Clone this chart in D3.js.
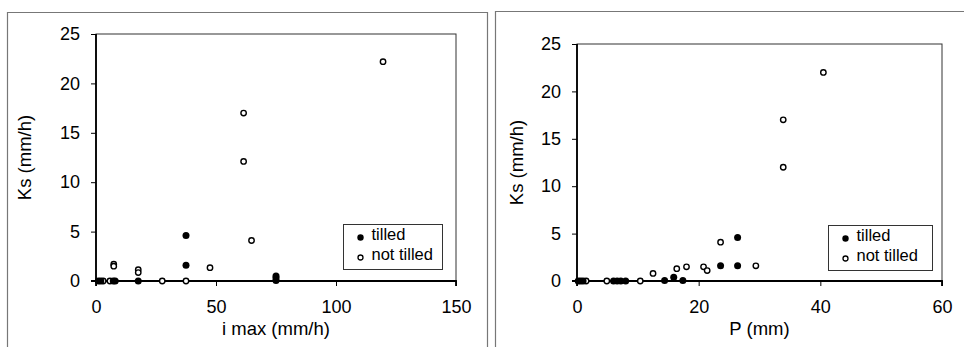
<!DOCTYPE html>
<html>
<head>
    <title>Ks scatter</title>
    <script src="https://d3js.org/d3.v7.min.js"></script>
    <style>
        body { margin: 0; background: #fff; }
        svg { display: block; }
        text { font-family: Arial, "Liberation Sans", sans-serif; fill: #000; }
    </style>
</head>
<body>
    <svg id="chart" width="964" height="347"></svg>

    <script>
        // left panel: Ks against i max
        var imaxTilled = [1, 2, 7.2, 8, 17.6, 37.5, 37.5, 75, 75, 75]
        var ksImaxTilled = [0, 0, 0, 0, 0, 4.6, 1.6, 0.5, 0.3, 0.05]
        var imaxNotTilled = [3, 5.8, 7.4, 7.4, 17.6, 17.6, 27.6, 37.5, 47.5, 61.5, 61.5, 64.8, 119.6]
        var ksImaxNotTilled = [0, 0, 1.7, 1.5, 1.15, 0.85, 0, 0, 1.35, 17.0, 12.1, 4.1, 22.2]

        // right panel: Ks against P
        var pTilled = [0.2, 0.6, 1.0, 6.0, 6.6, 7.2, 8.0, 14.4, 15.9, 17.4, 23.6, 26.4, 26.4]
        var ksPTilled = [0, 0, 0, 0, 0, 0, 0, 0.05, 0.4, 0.05, 1.6, 4.6, 1.6]
        var pNotTilled = [1.5, 4.9, 10.4, 12.5, 16.4, 18.0, 20.8, 21.4, 23.6, 29.4, 33.9, 33.9, 40.5]
        var ksPNotTilled = [0, 0, 0, 0.8, 1.3, 1.5, 1.5, 1.1, 4.1, 1.6, 17.0, 12.0, 22.0]

        var ksTicks = [0, 5, 10, 15, 20, 25]
        var imaxTicks = [0, 50, 100, 150]
        var pTicks = [0, 20, 40, 60]
        var legendLabels = ["tilled", "not tilled"]

        svg = d3.select("#chart")

        // scanned page frames round each figure
        svg.append("path")
            .attr("d", "M7.5,347 V12.5 H487.5 V347")
            .attr("fill", "none").attr("stroke", "#777").attr("stroke-width", 1.2)
        svg.append("path")
            .attr("d", "M495.5,347 V11.5 H964")
            .attr("fill", "none").attr("stroke", "#777").attr("stroke-width", 1.2)

        function panel(p) {
            x = d3.scaleLinear([0, p.xMax], [p.left, p.right])
            y = d3.scaleLinear([0, 25], [p.bottom, p.top])

            g = svg.append("g")

            // plot box
            g.append("rect")
                .attr("x", p.left).attr("y", p.top)
                .attr("width", p.right - p.left).attr("height", p.bottom - p.top)
                .attr("fill", "none").attr("stroke", "#333").attr("stroke-width", 1)

            yAxis = g.append("g")
                .attr("transform", "translate(" + p.left + ",0)")
                .call(d3.axisLeft(y).tickValues(ksTicks).tickSize(5).tickPadding(11))
            xAxis = g.append("g")
                .attr("transform", "translate(0," + p.bottom + ")")
                .call(d3.axisBottom(x).tickValues(p.xTicks).tickSize(5).tickPadding(14))

            g.selectAll(".domain").attr("stroke", "#000").attr("stroke-width", 1.8)
            g.selectAll(".tick line").attr("stroke", "#000").attr("stroke-width", 1)
            g.selectAll(".tick text")
                .style("font-family", "Arial, 'Liberation Sans', sans-serif")
                .style("font-size", "18px").attr("fill", "#000")
            xAxis.select(".domain").attr("d", "M" + p.left + ",5V0H" + p.right + "V5")
            yAxis.select(".domain").attr("d", "M-5," + p.bottom + "H0V" + p.top)

            g.append("text")
                .attr("transform", "translate(" + p.yTitleX + "," + (p.top + p.bottom) / 2 + ") rotate(-90)")
                .attr("text-anchor", "middle")
                .attr("dy", "0.35em")
                .style("font-size", "18.5px")
                .text("Ks (mm/h)")
            g.append("text")
                .attr("x", (p.left + p.right) / 2)
                .attr("y", 335)
                .attr("text-anchor", "middle")
                .style("font-size", "18.5px")
                .text(p.xTitle)

            // points
            g.selectAll(".open")
                .data(p.xOpen).enter()
                .append("circle")
                .attr("cx", d => x(d))
                .attr("cy", (d, i) => y(p.yOpen[i]))
                .attr("r", 2.7)
                .attr("fill", "#fff").attr("stroke", "#000").attr("stroke-width", 1.4)
            g.selectAll(".filled")
                .data(p.xFilled).enter()
                .append("circle")
                .attr("cx", d => x(d))
                .attr("cy", (d, i) => y(p.yFilled[i]))
                .attr("r", 3.5)
                .attr("fill", "#000")

            // legend
            lg = g.append("g")
            lg.append("rect")
                .attr("x", p.legX).attr("y", p.legY)
                .attr("width", p.legW).attr("height", 45)
                .attr("fill", "#fff").attr("stroke", "#333").attr("stroke-width", 1)
            lg.selectAll("text")
                .data(legendLabels).enter()
                .append("text")
                .attr("x", p.legX + 28)
                .attr("y", (d, i) => p.legY + 10 + i * 20)
                .attr("dy", "0.35em")
                .style("font-size", "16.5px")
                .text(d => d)
            lg.append("circle")
                .attr("cx", p.legX + 17).attr("cy", p.legY + 13)
                .attr("r", 3.2).attr("fill", "#000")
            lg.append("circle")
                .attr("cx", p.legX + 17).attr("cy", p.legY + 33)
                .attr("r", 2.5).attr("fill", "#fff")
                .attr("stroke", "#000").attr("stroke-width", 1.3)
        }

        panel({
            left: 96, right: 456, top: 34, bottom: 281,
            xMax: 150, xTicks: imaxTicks, xTitle: "i max (mm/h)", yTitleX: 25,
            xFilled: imaxTilled, yFilled: ksImaxTilled,
            xOpen: imaxNotTilled, yOpen: ksImaxNotTilled,
            legX: 343.5, legY: 224.5, legW: 99
        })

        panel({
            left: 577, right: 942, top: 44, bottom: 281,
            xMax: 60, xTicks: pTicks, xTitle: "P (mm)", yTitleX: 517,
            xFilled: pTilled, yFilled: ksPTilled,
            xOpen: pNotTilled, yOpen: ksPNotTilled,
            legX: 828.5, legY: 225.5, legW: 104
        })
    </script>
</body>
</html>
